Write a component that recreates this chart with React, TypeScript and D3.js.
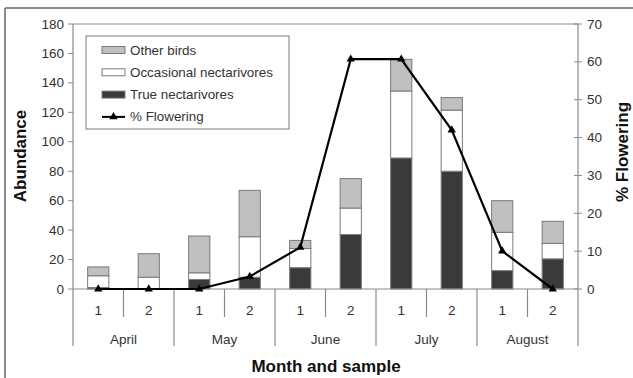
import React from "react";
import * as d3 from "d3";

const months = ["April", "May", "June", "July", "August"];
const samples = ["1", "2", "1", "2", "1", "2", "1", "2", "1", "2"];
const trueNect = [1, 0, 6.5, 8, 14.5, 37, 89, 80, 12.5, 20.5];
const occasional = [8, 8, 4.5, 27.5, 13, 18, 45.5, 41.5, 26, 10.5];
const otherBirds = [6, 16, 25, 31.5, 5.5, 20, 21.5, 8.5, 21.5, 15];
const flowering = [0, 0, 0, 3.3, 11, 60.7, 60.7, 42, 10, 0];
const leftTicks = [0, 20, 40, 60, 80, 100, 120, 140, 160, 180];
const rightTicks = [0, 10, 20, 30, 40, 50, 60, 70];
const seriesNames = ["Other birds", "Occasional nectarivores", "True nectarivores", "% Flowering"];

const W = 633, H = 378;
const L = 73, R = 578, T = 24, B = 289;
const FONT = "'Liberation Sans', Arial, sans-serif";
const AXIS = "#8a8a8a";
const COL_TRUE = "#3a3a3a", COL_OCC = "#ffffff", COL_OTHER = "#c0c0c0";

export default function App() {
  const idx = samples.map((_, i) => i);
  const x = d3.scaleBand<number>().domain(idx).range([L, R]).paddingInner(0.58).paddingOuter(0.29);
  const y = d3.scaleLinear().domain([0, 180]).range([B, T]);
  const y2 = d3.scaleLinear().domain([0, 70]).range([B, T]);
  const step = x.step();

  const table = idx.map((i) => ({ i, t: trueNect[i], o: occasional[i], b: otherBirds[i] }));
  const stack = d3.stack<any>().keys(["t", "o", "b"])(table);
  const fills = [COL_TRUE, COL_OCC, COL_OTHER];

  const line = d3.line<number>().x((_, i) => (x(i) as number) + x.bandwidth() / 2).y((d) => y2(d));
  const tri = d3.symbol().type(d3.symbolTriangle).size(30)();

  return (
    <svg width={W} height={H} style={{ position: "absolute", left: 0, top: 0 }}>
      <rect x={0} y={0} width={W} height={H} fill="#fff" />
      {/* outer frame */}
      <line x1={5} y1={8} x2={W} y2={8} stroke="#666" strokeWidth={1.5} />
      <line x1={5} y1={8} x2={5} y2={H} stroke="#666" strokeWidth={1.5} />
      {/* plot top border */}
      <line x1={L} y1={T} x2={R} y2={T} stroke={AXIS} strokeWidth={1} />
      {/* bars */}
      {stack.map((layer, k) =>
        layer.map((d, i) => (
          <rect key={k + "-" + i} x={x(i)} width={x.bandwidth()} y={y(d[1])} height={Math.max(0, y(d[0]) - y(d[1]))}
            fill={fills[k]} stroke="#7a7a7a" strokeWidth={1} />
        ))
      )}
      {/* left axis */}
      <line x1={L} y1={T} x2={L} y2={346} stroke={AXIS} strokeWidth={1.2} />
      {leftTicks.map((t) => (
        <g key={"l" + t}>
          <line x1={L - 5} x2={L} y1={y(t)} y2={y(t)} stroke={AXIS} />
          <text x={L - 9} y={y(t) + 4.5} textAnchor="end" fontFamily={FONT} fontSize={13.5} fill="#333">{t}</text>
        </g>
      ))}
      {/* right axis */}
      <line x1={R} y1={T} x2={R} y2={346} stroke={AXIS} strokeWidth={1.2} />
      {rightTicks.map((t) => (
        <g key={"r" + t}>
          <line x1={R - 4} x2={R + 4} y1={y2(t)} y2={y2(t)} stroke={AXIS} />
          <text x={R + 9} y={y2(t) + 4.5} textAnchor="start" fontFamily={FONT} fontSize={13.5} fill="#333">{t}</text>
        </g>
      ))}
      {/* x axis */}
      <line x1={L} y1={B} x2={R} y2={B} stroke={AXIS} strokeWidth={1.2} />
      {idx.map((i) => (
        <text key={"s" + i} x={(x(i) as number) + x.bandwidth() / 2} y={315} textAnchor="middle" fontFamily={FONT} fontSize={13.5} fill="#333">{samples[i]}</text>
      ))}
      {months.map((m, k) => (
        <g key={m}>
          <line x1={L + step * (2 * k + 1)} x2={L + step * (2 * k + 1)} y1={B} y2={317} stroke={AXIS} strokeWidth={1.2} />
          {k > 0 && <line x1={L + step * 2 * k} x2={L + step * 2 * k} y1={B} y2={346} stroke={AXIS} strokeWidth={1.2} />}
          <text x={L + step * (2 * k + 1)} y={344} textAnchor="middle" fontFamily={FONT} fontSize={13.5} fill="#333">{m}</text>
        </g>
      ))}
      {/* flowering line */}
      <path d={line(flowering) || ""} fill="none" stroke="#000" strokeWidth={2.2} />
      {flowering.map((v, i) => (
        <path key={"m" + i} d={tri || ""} transform={`translate(${(x(i) as number) + x.bandwidth() / 2},${y2(v)})`} fill="#000" />
      ))}
      {/* titles */}
      <text transform="translate(26,156) rotate(-90)" textAnchor="middle" fontFamily={FONT} fontSize={17} fontWeight="bold" fill="#111">Abundance</text>
      <text transform="translate(628,152) rotate(-90)" textAnchor="middle" fontFamily={FONT} fontSize={17} fontWeight="bold" fill="#111">% Flowering</text>
      <text x={326} y={372} textAnchor="middle" fontFamily={FONT} fontSize={17} fontWeight="bold" fill="#111">Month and sample</text>
      {/* legend */}
      <rect x={86} y={36} width={203} height={93} fill="#fff" stroke="#7a7a7a" strokeWidth={1} />
      {seriesNames.map((n, k) => {
        const cy = 50 + k * 22.3;
        return (
          <g key={n}>
            {k < 3 ? (
              <rect x={102} y={cy - 3.5} width={23} height={7} fill={[COL_OTHER, COL_OCC, COL_TRUE][k]} stroke="#7a7a7a" />
            ) : (
              <g>
                <line x1={102} x2={125} y1={cy} y2={cy} stroke="#000" strokeWidth={2} />
                <path d={tri || ""} transform={`translate(113.5,${cy})`} fill="#000" />
              </g>
            )}
            <text x={130} y={cy + 4.5} fontFamily={FONT} fontSize={13.4} fill="#333">{n}</text>
          </g>
        );
      })}
    </svg>
  );
}
